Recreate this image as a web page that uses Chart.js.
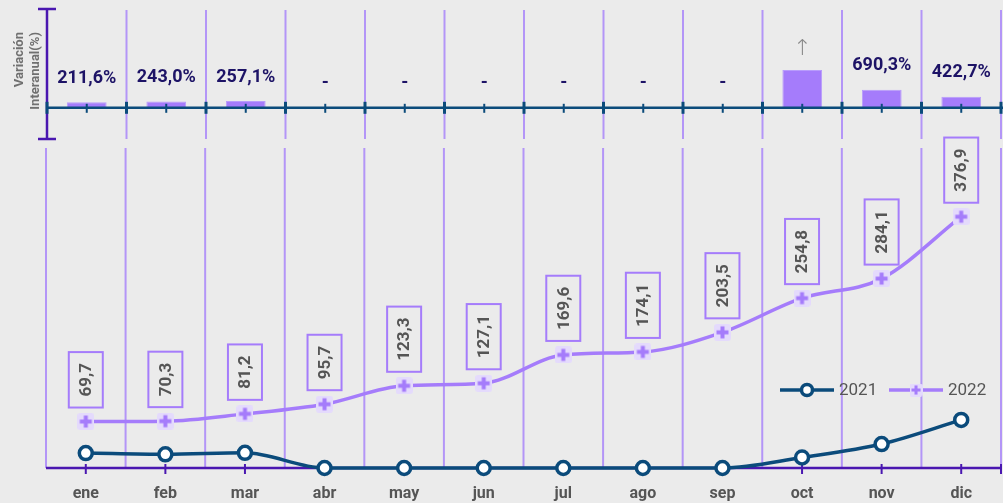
<!DOCTYPE html>
<html>
<head>
<meta charset="utf-8">
<script src="https://cdn.jsdelivr.net/npm/chart.js@4.4.0/dist/chart.umd.min.js"></script>
<style>
  body { margin: 0; background: #ebebeb; }
  #wrap { position: relative; width: 1003px; height: 503px; overflow: hidden; }
  #top-chart { position: absolute; left: 0; top: 0; z-index: 2; }
  #main-chart { position: absolute; left: 0; top: 0; z-index: 1; }
</style>
</head>
<body>
<div id="wrap">
  <canvas id="main-chart" width="1003" height="503"></canvas>
  <canvas id="top-chart" width="1003" height="142"></canvas>
</div>
<script>
const months = ['ene', 'feb', 'mar', 'abr', 'may', 'jun', 'jul', 'ago', 'sep', 'oct', 'nov', 'dic'];
const values2021 = [22.4, 20.5, 22.7, 0, 0, 0, 0, 0, 0, 15.8, 35.9, 72.1];
const values2022 = [69.7, 70.3, 81.2, 95.7, 123.3, 127.1, 169.6, 174.1, 203.5, 254.8, 284.1, 376.9];
// variacion interanual (%), null = sin base en 2021
const variation = [211.6, 243.0, 257.1, null, null, null, null, null, null, 1450, 690.3, 422.7];

const BLUE = '#0b4b7b';
const PURPLE = '#a57cfb';
const DARK_PURPLE = '#4a17b0';
const GRID = '#b395f7';
const GREY = '#555';
const FONT = 'Roboto, "DejaVu Sans", sans-serif';

function fmt(v) {
  if (v == null) return '-';
  if (v > 1000) return '↑';
  return v.toFixed(1).replace('.', ',') + '%';
}

// marker for 2022: lavender square with a plus
const plusMark = document.createElement('canvas');
plusMark.width = 17; plusMark.height = 17;
(function () {
  const c = plusMark.getContext('2d');
  c.fillStyle = '#e4dafc';
  c.beginPath();
  c.roundRect(0, 0, 17, 17, 3);
  c.fill();
  c.strokeStyle = PURPLE;
  c.lineWidth = 4;
  c.beginPath();
  c.moveTo(8.5, 2.5); c.lineTo(8.5, 14.5);
  c.moveTo(2.5, 8.5); c.lineTo(14.5, 8.5);
  c.stroke();
})();

function boundaries(scale, n) {
  const out = [];
  const step = (scale.right - scale.left) / n;
  for (let i = 0; i <= n; i++) out.push(scale.left + i * step);
  return out;
}

// ---------- top: variacion interanual ----------
const topDecor = {
  id: 'topDecor',
  beforeDatasetsDraw(chart) {
    const ctx = chart.ctx;
    const x = chart.scales.x;
    const area = chart.chartArea;
    const b = boundaries(x, months.length);
    ctx.save();
    ctx.strokeStyle = GRID;
    ctx.lineWidth = 2;
    for (let i = 1; i < b.length; i++) {
      ctx.beginPath();
      ctx.moveTo(b[i], area.top + 1);
      ctx.lineTo(b[i], area.bottom);
      ctx.stroke();
    }
    // I-beam axis
    ctx.strokeStyle = DARK_PURPLE;
    ctx.lineWidth = 2.5;
    ctx.beginPath();
    ctx.moveTo(b[0], area.top);
    ctx.lineTo(b[0], area.bottom);
    ctx.moveTo(b[0] - 9, area.top); ctx.lineTo(b[0] + 9, area.top);
    ctx.moveTo(b[0] - 9, area.bottom); ctx.lineTo(b[0] + 9, area.bottom);
    ctx.stroke();
    ctx.restore();
  },
  afterDatasetsDraw(chart) {
    const ctx = chart.ctx;
    const x = chart.scales.x, y = chart.scales.y;
    const base = y.getPixelForValue(0);
    const b = boundaries(x, months.length);
    ctx.save();
    ctx.strokeStyle = BLUE;
    ctx.lineWidth = 2.5;
    ctx.beginPath();
    ctx.moveTo(b[0], base);
    ctx.lineTo(chart.width, base);
    ctx.stroke();
    ctx.lineWidth = 3;
    b.forEach(px => {
      ctx.beginPath();
      ctx.moveTo(px, base - 6);
      ctx.lineTo(px, base + 6);
      ctx.stroke();
    });
    ctx.lineWidth = 2;
    months.forEach((m, i) => {
      const px = x.getPixelForValue(i);
      ctx.beginPath();
      ctx.moveTo(px, base - 4);
      ctx.lineTo(px, base + 5);
      ctx.stroke();
    });
    // labels above bars
    const meta = chart.getDatasetMeta(0);
    ctx.textAlign = 'center';
    ctx.textBaseline = 'bottom';
    variation.forEach((v, i) => {
      const bar = meta.data[i];
      const topY = v == null ? base : bar.y;
      const txt = fmt(v);
      if (txt === '↑') {
        ctx.fillStyle = '#888';
        ctx.font = '300 22px ' + FONT;
        ctx.fillText(txt, bar.x, topY - 10);
      } else {
        ctx.fillStyle = '#1d1366';
        ctx.font = 'bold 18px ' + FONT;
        ctx.fillText(txt, bar.x, topY - 15);
      }
    });
    // axis title
    ctx.fillStyle = '#707070';
    ctx.font = 'bold 13px ' + FONT;
    ctx.textAlign = 'right';
    ctx.textBaseline = 'middle';
    ctx.translate(20, 32);
    ctx.rotate(-Math.PI / 2);
    ctx.fillText('Variación', 0, 0);
    ctx.fillText('Interanual(%)', 0, 16);
    ctx.restore();
  }
};

new Chart(document.getElementById('top-chart').getContext('2d'), {
  type: 'bar',
  data: {
    labels: months,
    datasets: [{
      data: variation.map(v => v == null ? 0 : v),
      backgroundColor: PURPLE,
      borderColor: '#b89cfc',
      borderWidth: 1,
      barPercentage: 0.5,
      categoryPercentage: 1
    }]
  },
  options: {
    responsive: false,
    animation: false,
    layout: { autoPadding: false, padding: { left: 47, right: 2, top: 9, bottom: 3 } },
    plugins: { legend: { display: false }, tooltip: { enabled: false } },
    scales: {
      x: { display: false },
      y: { display: false, min: -1200, max: 3800 }
    }
  },
  plugins: [topDecor]
});

// ---------- main: lines ----------
const mainDecor = {
  id: 'mainDecor',
  beforeDatasetsDraw(chart) {
    const ctx = chart.ctx;
    const x = chart.scales.x;
    const area = chart.chartArea;
    const b = boundaries(x, months.length);
    ctx.save();
    ctx.strokeStyle = GRID;
    ctx.lineWidth = 2;
    b.forEach(px => {
      ctx.beginPath();
      ctx.moveTo(px, area.top);
      ctx.lineTo(px, area.bottom);
      ctx.stroke();
    });
    ctx.strokeStyle = DARK_PURPLE;
    ctx.lineWidth = 2.5;
    ctx.beginPath();
    ctx.moveTo(b[0], area.bottom);
    ctx.lineTo(b[b.length - 1], area.bottom);
    ctx.stroke();
    ctx.lineWidth = 2;
    months.forEach((m, i) => {
      const px = x.getPixelForValue(i);
      ctx.beginPath();
      ctx.moveTo(px, area.bottom - 4);
      ctx.lineTo(px, area.bottom + 6);
      ctx.stroke();
    });
    ctx.beginPath();
    ctx.moveTo(b[b.length - 1], area.bottom - 4);
    ctx.lineTo(b[b.length - 1], area.bottom + 6);
    ctx.stroke();
    ctx.fillStyle = GREY;
    ctx.font = 'bold 16px ' + FONT;
    ctx.textAlign = 'center';
    ctx.textBaseline = 'middle';
    months.forEach((m, i) => ctx.fillText(m, x.getPixelForValue(i), area.bottom + 26));
    ctx.restore();
  },
  afterDatasetsDraw(chart) {
    const ctx = chart.ctx;
    const meta = chart.getDatasetMeta(1);
    ctx.save();
    ctx.font = 'bold 17px ' + FONT;
    values2022.forEach((v, i) => {
      const p = meta.data[i];
      const txt = v.toFixed(1).replace('.', ',');
      const w = ctx.measureText(txt).width;
      const h = w + 22;
      const bw = 34;
      const bottom = p.y - 14;
      ctx.fillStyle = '#ebebeb';
      ctx.fillRect(p.x - bw / 2, bottom - h, bw, h);
      ctx.strokeStyle = PURPLE;
      ctx.lineWidth = 2;
      ctx.strokeRect(p.x - bw / 2, bottom - h, bw, h);
      ctx.save();
      ctx.translate(p.x, bottom - h / 2);
      ctx.rotate(-Math.PI / 2);
      ctx.fillStyle = GREY;
      ctx.textAlign = 'center';
      ctx.textBaseline = 'middle';
      ctx.fillText(txt, 0, 1);
      ctx.restore();
    });
    // legend
    const ly = chart.chartArea.top + 242;
    const items = [
      { x: 780, color: BLUE, label: '2021', marker: 'circle' },
      { x: 889, color: PURPLE, label: '2022', marker: 'plus' }
    ];
    items.forEach(it => {
      ctx.strokeStyle = it.color;
      ctx.lineWidth = 3.5;
      ctx.beginPath();
      ctx.moveTo(it.x, ly);
      ctx.lineTo(it.x + 54, ly);
      ctx.stroke();
      if (it.marker === 'circle') {
        ctx.fillStyle = '#fff';
        ctx.lineWidth = 3.5;
        ctx.beginPath();
        ctx.arc(it.x + 27, ly, 5.5, 0, Math.PI * 2);
        ctx.fill();
        ctx.stroke();
      } else {
        ctx.drawImage(plusMark, it.x + 27 - 6.5, ly - 6.5, 13, 13);
      }
      ctx.fillStyle = GREY;
      ctx.font = '400 17px ' + FONT;
      ctx.textAlign = 'left';
      ctx.textBaseline = 'middle';
      ctx.fillText(it.label, it.x + 59, ly + 1);
    });
    ctx.restore();
  }
};

new Chart(document.getElementById('main-chart').getContext('2d'), {
  type: 'line',
  data: {
    labels: months,
    datasets: [{
      label: '2021',
      data: values2021,
      borderColor: BLUE,
      borderWidth: 3.5,
      pointRadius: 6.5,
      pointBorderWidth: 3.5,
      pointBackgroundColor: '#fff',
      pointBorderColor: BLUE,
      cubicInterpolationMode: 'monotone',
      clip: false
    }, {
      label: '2022',
      data: values2022,
      borderColor: PURPLE,
      borderWidth: 3.5,
      pointStyle: plusMark,
      cubicInterpolationMode: 'monotone',
      clip: false
    }]
  },
  options: {
    responsive: false,
    animation: false,
    layout: { autoPadding: false, padding: { left: 46, right: 2, top: 148, bottom: 35 } },
    plugins: { legend: { display: false }, tooltip: { enabled: false } },
    scales: {
      x: { display: false, offset: true },
      y: { display: false, min: 0, max: 480 }
    }
  },
  plugins: [mainDecor]
});
</script>
</body>
</html>
